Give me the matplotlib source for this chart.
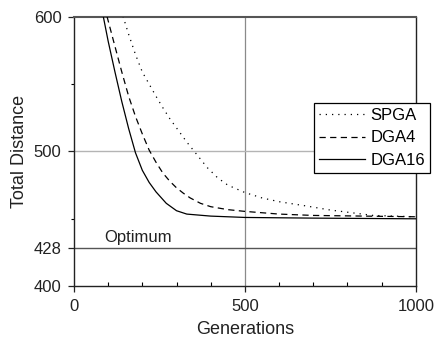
import matplotlib
matplotlib.use("Agg")
import matplotlib.pyplot as plt
from matplotlib.ticker import FixedLocator

plt.rcParams['font.family'] = ['Liberation Sans', 'DejaVu Sans']

# ---------------------------------------------------------------------------
# Data
# ---------------------------------------------------------------------------
gens_spga = [138, 144, 160, 180, 200, 220, 240, 260, 280, 300, 330, 360, 390, 420,
             450, 500, 550, 600, 680, 750, 875, 1000]
spga = [605, 600, 587, 572, 559, 550, 541, 532.5, 524.5, 517.5, 507, 497.5, 488, 480.5,
        475, 469.5, 465.5, 462.7, 459.5, 456.5, 452.5, 451.5]

gens_dga4 = [90, 97, 120, 140, 160, 180, 200, 220, 240, 260, 280, 300, 320, 340,
             370, 400, 450, 500, 600, 700, 850, 1000]
dga4 = [608, 600, 578, 559, 541, 526, 513, 501, 492, 484, 478, 473, 469, 465.5,
        461.5, 459, 456.8, 455.5, 453.5, 452.5, 452, 451.5]

gens_dga16 = [80, 86, 100, 120, 140, 160, 180, 200, 220, 240, 270, 300, 330, 400,
              500, 700, 1000]
dga16 = [609, 600, 582, 559, 537, 517, 499, 486, 477, 470, 461.5, 456, 453.5, 452,
         451, 450.5, 450]

optimum = 428
x_ticks = [0, 500, 1000]
y_ticks = [400, 428, 500, 600]

# ---------------------------------------------------------------------------
# Figure
# ---------------------------------------------------------------------------
fig = plt.figure(figsize=(4.35, 3.37), dpi=100)
ax = fig.add_axes([0.170, 0.151, 0.786, 0.799])

ax.axvline(500, color='#8a8a8a', lw=0.9, zorder=1)
ax.axhline(500, color='#b4b4b4', lw=1.0, zorder=1)
ax.axhline(optimum, color='#555555', lw=1.0, zorder=1)
ax.text(90, optimum + 2.5, 'Optimum', fontsize=12, color='#222222', va='bottom', ha='left')

ax.plot(gens_spga, spga, color='black', lw=0.9, linestyle=(0, (1, 4)), label='SPGA', zorder=3)
ax.plot(gens_dga4, dga4, color='black', lw=0.9, linestyle=(0, (5, 3.5)), label='DGA4', zorder=3)
ax.plot(gens_dga16, dga16, color='black', lw=0.9, linestyle='-', label='DGA16', zorder=3)

ax.set_xlim(0, 1000)
ax.set_ylim(400, 600)
ax.set_xticks(x_ticks)
ax.set_yticks(y_ticks)
ax.xaxis.set_minor_locator(FixedLocator(range(100, 1000, 100)))
ax.yaxis.set_minor_locator(FixedLocator([450, 550]))
ax.tick_params(axis='both', which='major', direction='out', length=4, width=0.9,
               labelsize=12, colors='#222222')
ax.tick_params(axis='x', which='major', pad=5)
ax.tick_params(axis='y', which='major', pad=5)
ax.tick_params(axis='x', which='minor', direction='in', length=3, width=0.8)
ax.tick_params(axis='y', which='minor', direction='out', length=2.5, width=0.8)

for side in ['left', 'bottom', 'right']:
    ax.spines[side].set_linewidth(1.0)
    ax.spines[side].set_color('#222222')
ax.spines['top'].set_linewidth(1.5)
ax.spines['top'].set_color('#555555')

ax.set_xlabel('Generations', fontsize=13, color='#222222', labelpad=5)
ax.set_ylabel('Total Distance', fontsize=13, color='#222222', labelpad=4)

leg = ax.legend(loc='upper right', bbox_to_anchor=(430 / 435, 1 - 103 / 337),
                bbox_transform=fig.transFigure, borderaxespad=0, fontsize=12,
                handlelength=2.8, handletextpad=0.3, labelspacing=0.45,
                borderpad=0.3, fancybox=False, framealpha=1)
leg.get_frame().set_edgecolor('black')
leg.get_frame().set_linewidth(0.9)
leg.set_zorder(5)

fig.savefig('out.png', dpi=100)
